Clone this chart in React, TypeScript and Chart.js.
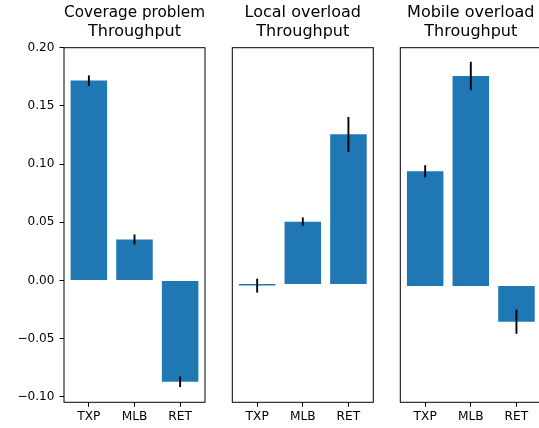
import React, { useEffect, useRef } from 'react';
import { Chart, registerables } from 'chart.js';

Chart.register(...registerables);

// ---- data ----
const categories = ['TXP', 'MLB', 'RET'];
const yTicks = [-0.1, -0.05, 0, 0.05, 0.1, 0.15, 0.2];

const coverageTitle = ['Coverage problem', 'Throughput'];
const coverageBase = 0;
const coverageValues = [0.1717, 0.0352, -0.0871];
const coverageErrors = [0.0045, 0.0043, 0.0046];

const localTitle = ['Local overload', 'Throughput'];
const localBase = -0.0032;
const localValues = [-0.0045, 0.0505, 0.1255];
const localErrors = [0.006, 0.0036, 0.015];

const mobileTitle = ['Mobile overload', 'Throughput'];
const mobileBase = -0.0049;
const mobileValues = [0.0937, 0.1757, -0.0355];
const mobileErrors = [0.0053, 0.0122, 0.0104];

const Y_MIN = -0.1048;
const Y_MAX = 0.2;
const X_MIN = -0.545;
const X_MAX = 2.545;

const FONT = 'DejaVu Sans';
const BAR_COLOR = '#1f77b4';
const H = 428;

type PanelProps = {
  title: string[];
  base: number;
  values: number[];
  errors: number[];
  showY: boolean;
  left: number;
  width: number;
  padLeft: number;
  padRight: number;
};

function Panel(props: PanelProps) {
  const ref = useRef<HTMLCanvasElement | null>(null);
  useEffect(() => {
    if (!ref.current) return;
    const { title, base, values, errors, showY, padLeft, padRight } = props;

    const framePlugin = {
      id: 'frame',
      afterDraw(chart: any) {
        const { ctx, chartArea } = chart;
        ctx.save();
        ctx.strokeStyle = '#000';
        ctx.lineWidth = 1;
        ctx.strokeRect(chartArea.left, chartArea.top, chartArea.right - chartArea.left, chartArea.bottom - chartArea.top);
        ctx.restore();
      },
    };

    const errorPlugin = {
      id: 'errbars',
      afterDatasetsDraw(chart: any) {
        const { ctx } = chart;
        const xs = chart.scales.x;
        const ys = chart.scales.y;
        ctx.save();
        ctx.strokeStyle = '#000';
        ctx.lineWidth = 1.9;
        ctx.lineCap = 'butt';
        values.forEach((v, i) => {
          const x = xs.getPixelForValue(i);
          const y1 = ys.getPixelForValue(v - errors[i]);
          const y2 = ys.getPixelForValue(v + errors[i]);
          ctx.beginPath();
          ctx.moveTo(x, y1);
          ctx.lineTo(x, y2);
          ctx.stroke();
        });
        ctx.restore();
      },
    };

    const chart = new Chart(ref.current, {
      type: 'bar',
      data: {
        datasets: [
          {
            data: values.map((v, i) => ({ x: i, y: [base, v] })) as any,
            backgroundColor: BAR_COLOR,
            borderWidth: 0,
            barPercentage: 0.8,
            categoryPercentage: 1.0,
          },
        ],
      },
      options: {
        responsive: false,
        animation: false,
        devicePixelRatio: 1,
        layout: { padding: { left: padLeft, right: padRight, top: 0, bottom: 0 } },
        plugins: {
          legend: { display: false },
          tooltip: { enabled: false },
          title: {
            display: true,
            text: title,
            fullSize: false,
            color: '#000',
            font: { family: FONT, size: 16, weight: 'normal', lineHeight: 1.2 },
            padding: { top: 3.2, bottom: 6.1 },
          },
        },
        scales: {
          x: {
            type: 'linear',
            offset: false,
            min: X_MIN,
            max: X_MAX,
            afterBuildTicks: (scale: any) => {
              scale.ticks = categories.map((_, i) => ({ value: i }));
            },
            afterFit: (scale: any) => {
              scale.height = H - 402.3;
            },
            ticks: {
              autoSkip: false,
              maxRotation: 0,
              padding: 3,
              color: '#000',
              font: { family: FONT, size: 12.2 },
              callback: (v: any) => categories[Math.round(Number(v))] ?? '',
            },
            grid: { offset: false, drawOnChartArea: false, drawTicks: true, tickLength: 4.5, color: '#000', lineWidth: 1 },
            border: { display: false },
          },
          y: {
            type: 'linear',
            display: showY,
            min: Y_MIN,
            max: Y_MAX,
            afterBuildTicks: (scale: any) => {
              scale.ticks = yTicks.map((v) => ({ value: v }));
            },
            afterFit: (scale: any) => {
              scale.width = showY ? 64 : 0;
            },
            ticks: {
              autoSkip: false,
              padding: 5,
              color: '#000',
              font: { family: FONT, size: 12.1 },
              callback: (v: any) => Number(v).toFixed(2).replace('-', '\u2212'),
            },
            grid: { drawOnChartArea: false, drawTicks: true, tickLength: 4.5, color: '#000', lineWidth: 1 },
            border: { display: false },
          },
        },
      } as any,
      plugins: [errorPlugin, framePlugin],
    });
    return () => chart.destroy();
  }, []);

  return (
    <canvas
      ref={ref}
      width={props.width}
      height={H}
      style={{ position: 'absolute', left: props.left, top: 0, width: props.width, height: H, display: 'block' }}
    />
  );
}

export default function App() {
  return (
    <div style={{ position: 'absolute', left: 0, top: 0, width: 539, height: 428, overflow: 'hidden', background: '#fff' }}>
      <Panel title={coverageTitle} base={coverageBase} values={coverageValues} errors={coverageErrors} showY={true} left={0} width={220} padLeft={0} padRight={15} />
      <Panel title={localTitle} base={localBase} values={localValues} errors={localErrors} showY={false} left={220} width={165} padLeft={12.3} padRight={11.7} />
      <Panel title={mobileTitle} base={mobileBase} values={mobileValues} errors={mobileErrors} showY={false} left={388} width={165} padLeft={12.3} padRight={11.7} />
    </div>
  );
}
